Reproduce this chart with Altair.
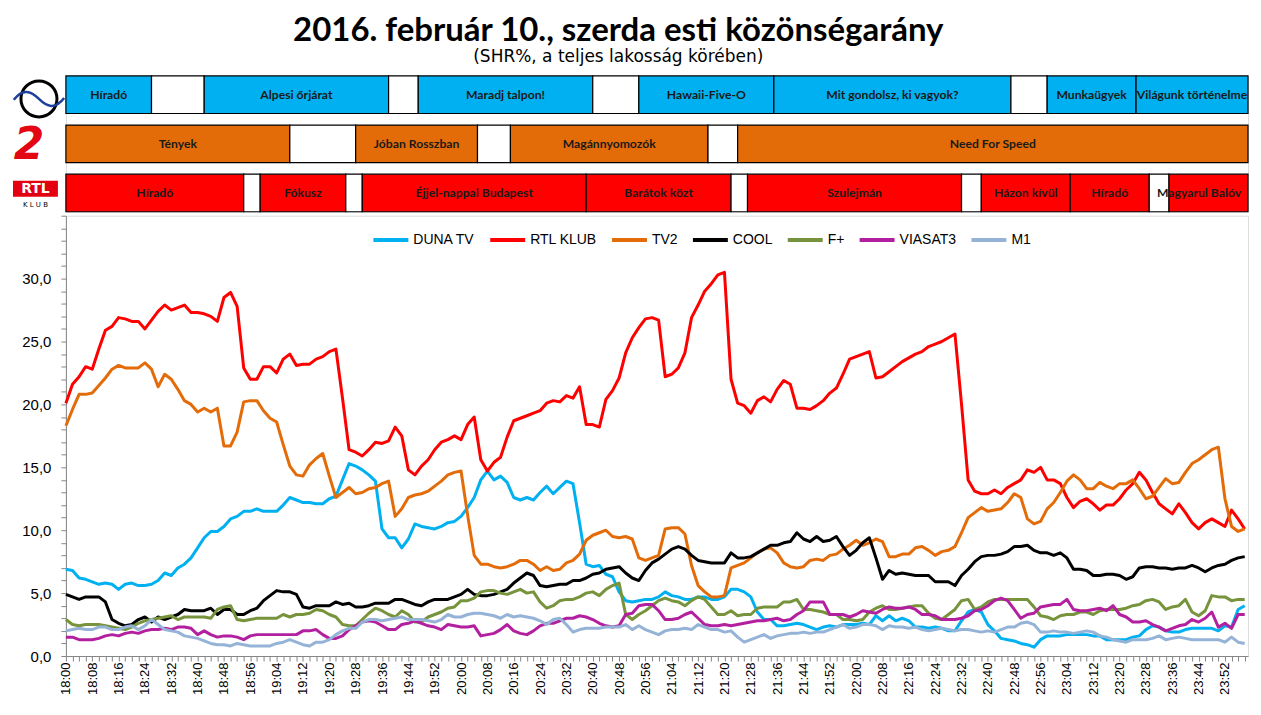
import altair as alt
import pandas as pd

# ---------------- data ----------------
minutes = list(range(0, 360, 2))  # minutes after 18:00

series_names = ["DUNA TV", "RTL KLUB", "TV2", "COOL", "F+", "VIASAT3", "M1"]
series_colors = ["#00B0F0", "#FF0000", "#E36C09", "#000000", "#77933C", "#B3209F", "#95B3D7"]

duna = [6.9, 6.8, 6.2, 6.1, 5.9, 5.7, 5.8, 5.7, 5.3, 5.7,
        5.8, 5.6, 5.6, 5.7, 6.0, 6.6, 6.4, 7.0, 7.3, 7.8,
        8.6, 9.4, 9.9, 9.9, 10.3, 10.9, 11.1, 11.5, 11.5, 11.7,
        11.5, 11.5, 11.5, 12.0, 12.6, 12.4, 12.2, 12.2, 12.1, 12.1,
        12.5, 12.7, 14.0, 15.3, 15.1, 14.8, 14.4, 13.9, 10.1, 9.4,
        9.4, 8.6, 9.3, 10.5, 10.3, 10.2, 10.1, 10.3, 10.6, 10.7,
        11.1, 11.8, 12.6, 14.0, 14.7, 14.0, 14.3, 13.8, 12.6, 12.4,
        12.6, 12.4, 13.0, 13.5, 12.9, 13.4, 13.9, 13.7, 10.6, 7.3,
        7.1, 7.2, 6.5, 6.3, 5.1, 4.4, 4.3, 4.4, 4.5, 4.5,
        4.7, 5.1, 4.8, 4.7, 4.5, 4.5, 4.7, 4.7, 4.5, 4.5,
        4.7, 5.3, 5.3, 5.1, 4.7, 3.5, 2.9, 2.9, 2.4, 2.4,
        2.5, 2.6, 2.5, 2.3, 2.1, 2.3, 2.4, 2.3, 2.5, 2.5,
        2.5, 2.6, 2.5, 3.2, 2.8, 3.2, 2.8, 3.0, 2.8, 2.3,
        2.3, 2.2, 2.3, 2.2, 2.0, 2.0, 2.8, 3.5, 3.7, 3.5,
        2.5, 2.0, 1.4, 1.3, 1.2, 1.0, 0.9, 0.7, 1.3, 1.6,
        1.6, 1.6, 1.7, 1.7, 1.7, 1.7, 1.6, 1.6, 1.3, 1.3,
        1.3, 1.3, 1.5, 1.6, 2.1, 2.4, 2.3, 2.0, 1.9, 1.9,
        2.1, 2.2, 2.2, 2.2, 2.2, 2.0, 2.4, 2.3, 3.7, 4.0]

rtl = [20.1, 21.6, 22.2, 23.0, 22.8, 24.4, 25.9, 26.2, 26.9, 26.8,
       26.6, 26.6, 26.0, 26.7, 27.4, 27.9, 27.5, 27.7, 27.9, 27.3,
       27.3, 27.2, 27.0, 26.6, 28.5, 28.9, 27.8, 22.9, 22.0, 22.0,
       23.0, 23.0, 22.5, 23.6, 24.0, 23.1, 23.2, 23.2, 23.6, 23.8,
       24.2, 24.4, 20.5, 16.4, 16.2, 15.9, 16.4, 17.0, 16.9, 17.1,
       18.2, 17.5, 14.8, 14.4, 15.1, 15.6, 16.4, 17.0, 17.2, 17.5,
       17.2, 18.4, 19.0, 15.6, 14.7, 15.4, 15.8, 17.4, 18.7, 18.9,
       19.1, 19.3, 19.5, 20.1, 20.3, 20.2, 20.7, 20.5, 21.4, 18.4,
       18.4, 18.2, 20.4, 21.1, 22.1, 24.1, 25.3, 26.1, 26.8, 26.9,
       26.7, 22.2, 22.4, 22.9, 24.1, 26.9, 27.9, 29.0, 29.6, 30.3,
       30.5, 22.0, 20.1, 19.9, 19.3, 20.3, 20.6, 20.2, 21.2, 21.9,
       21.6, 19.7, 19.7, 19.6, 19.9, 20.3, 20.9, 21.3, 22.4, 23.6,
       23.8, 24.0, 24.2, 22.1, 22.2, 22.6, 23.0, 23.4, 23.7, 24.0,
       24.2, 24.6, 24.8, 25.0, 25.3, 25.6, 20.0, 14.0, 13.1, 12.9,
       12.9, 13.2, 12.9, 13.4, 13.7, 14.0, 14.8, 14.6, 15.0, 14.0,
       14.0, 13.7, 12.6, 11.8, 12.3, 12.5, 12.1, 11.6, 12.0, 12.0,
       12.5, 13.2, 13.7, 14.6, 14.0, 13.0, 12.1, 11.7, 11.3, 12.1,
       11.4, 10.6, 10.1, 10.6, 10.9, 10.6, 10.3, 11.6, 10.9, 10.1]

tv2 = [18.3, 19.6, 20.8, 20.8, 20.9, 21.5, 22.1, 22.8, 23.1, 22.9,
       22.9, 22.9, 23.3, 22.8, 21.4, 22.4, 22.0, 21.2, 20.3, 20.0,
       19.4, 19.7, 19.4, 19.7, 16.7, 16.7, 17.8, 20.2, 20.3, 20.3,
       19.5, 18.9, 18.6, 16.8, 15.1, 14.4, 14.3, 15.2, 15.7, 16.1,
       14.3, 12.6, 13.0, 13.4, 12.9, 13.0, 13.3, 13.4, 13.7, 13.9,
       11.1, 11.7, 12.6, 12.8, 12.9, 13.1, 13.5, 13.9, 14.4, 14.6,
       14.7, 11.2, 8.0, 7.3, 7.3, 7.1, 7.0, 7.1, 7.3, 7.6,
       7.6, 7.3, 6.8, 7.1, 6.8, 6.9, 7.4, 7.6, 8.1, 9.2,
       9.6, 9.8, 10.0, 9.5, 9.4, 9.5, 9.3, 7.8, 7.6, 7.8,
       8.0, 10.1, 10.2, 10.2, 9.7, 7.2, 5.6, 5.1, 4.7, 4.7,
       4.8, 7.0, 7.2, 7.4, 7.8, 8.2, 8.5, 8.6, 8.2, 7.4,
       7.1, 7.0, 7.1, 7.6, 7.7, 7.6, 8.0, 8.1, 8.5, 8.8,
       9.2, 8.8, 9.0, 9.3, 9.1, 7.9, 7.9, 8.1, 8.1, 8.6,
       8.7, 8.4, 8.0, 8.3, 8.4, 8.7, 9.8, 11.0, 11.4, 11.8,
       11.5, 11.6, 11.7, 12.2, 12.9, 12.6, 10.9, 10.5, 10.7, 11.7,
       12.2, 13.0, 13.9, 14.4, 14.0, 13.3, 13.3, 13.8, 13.5, 13.3,
       13.7, 13.7, 14.0, 13.3, 12.5, 12.7, 13.4, 14.1, 13.7, 13.8,
       14.6, 15.3, 15.6, 16.0, 16.4, 16.6, 12.5, 10.3, 9.9, 10.1]

cool = [4.9, 4.7, 4.5, 4.7, 4.7, 4.7, 4.3, 2.9, 2.6, 2.4,
        2.5, 2.9, 3.1, 2.7, 3.1, 2.9, 3.1, 3.3, 3.7, 3.6,
        3.6, 3.6, 3.8, 3.3, 3.7, 3.7, 3.3, 3.3, 3.6, 3.8,
        4.4, 4.8, 5.2, 5.1, 5.1, 4.9, 3.9, 3.8, 4.0, 4.0,
        4.0, 4.3, 4.1, 4.2, 3.9, 3.9, 4.0, 4.2, 4.2, 4.2,
        4.5, 4.5, 4.3, 4.1, 4.0, 4.3, 4.5, 4.5, 4.5, 4.7,
        4.9, 5.3, 4.9, 4.8, 4.8, 4.9, 5.1, 5.3, 5.8, 6.2,
        6.6, 6.4, 5.6, 5.5, 5.6, 5.7, 5.7, 6.0, 6.0, 6.2,
        6.5, 6.6, 6.9, 7.0, 7.1, 6.6, 6.2, 6.0, 6.8, 7.4,
        7.7, 8.1, 8.5, 8.7, 8.5, 8.0, 7.6, 7.5, 7.4, 7.4,
        7.4, 8.2, 7.8, 7.8, 7.9, 8.2, 8.5, 8.8, 8.8, 9.0,
        9.1, 9.8, 9.3, 9.1, 9.5, 9.1, 9.2, 9.5, 8.7, 8.0,
        8.4, 9.0, 9.4, 7.8, 6.1, 6.8, 6.5, 6.6, 6.5, 6.4,
        6.4, 6.4, 5.9, 5.9, 5.9, 5.6, 6.4, 6.9, 7.5, 7.9,
        8.0, 8.0, 8.1, 8.3, 8.7, 8.7, 8.8, 8.4, 8.2, 8.2,
        8.0, 8.2, 7.8, 6.9, 6.9, 6.8, 6.4, 6.4, 6.5, 6.5,
        6.4, 6.1, 6.3, 7.0, 7.1, 7.1, 7.0, 7.0, 6.9, 7.0,
        7.0, 7.2, 7.0, 6.7, 7.0, 7.2, 7.3, 7.6, 7.8, 7.9]

fplus = [2.9, 2.5, 2.4, 2.5, 2.5, 2.5, 2.4, 2.3, 2.2, 2.1,
         2.3, 2.6, 2.8, 2.9, 3.0, 3.1, 3.2, 2.9, 3.1, 3.1,
         3.1, 3.1, 3.0, 3.7, 3.9, 4.0, 2.9, 2.8, 2.9, 3.0,
         3.0, 3.0, 3.0, 3.3, 3.1, 3.3, 3.3, 3.4, 3.7, 3.6,
         3.3, 3.1, 2.5, 2.4, 2.4, 2.9, 3.4, 3.8, 3.6, 3.3,
         3.1, 3.6, 3.3, 2.7, 2.7, 3.1, 3.3, 3.5, 3.8, 3.9,
         4.4, 4.4, 4.6, 5.1, 5.2, 5.2, 5.0, 4.9, 5.1, 5.3,
         5.0, 5.1, 4.3, 3.8, 4.0, 4.4, 4.5, 4.5, 4.7, 5.0,
         5.1, 4.8, 5.3, 5.6, 5.8, 3.3, 2.9, 3.3, 3.6, 4.0,
         4.4, 4.6, 4.4, 4.3, 4.0, 4.4, 4.7, 4.5, 3.9, 3.3,
         3.3, 3.6, 3.2, 3.3, 3.3, 3.8, 3.9, 3.9, 3.9, 4.3,
         4.3, 4.5, 3.7, 3.7, 3.6, 3.5, 3.3, 3.3, 2.9, 2.9,
         2.8, 2.9, 3.5, 3.8, 4.0, 3.7, 3.7, 3.8, 3.9, 4.0,
         4.0, 3.4, 3.0, 2.9, 3.3, 3.7, 4.4, 4.5, 3.7, 3.9,
         4.3, 4.5, 4.5, 4.5, 4.5, 4.5, 4.5, 3.9, 3.2, 3.1,
         2.9, 3.2, 3.3, 3.3, 3.5, 3.5, 3.3, 3.6, 3.7, 3.7,
         3.7, 3.8, 4.0, 4.1, 4.4, 4.5, 4.3, 3.7, 3.9, 4.0,
         4.5, 3.5, 3.2, 3.6, 4.8, 4.7, 4.7, 4.4, 4.5, 4.5]

viasat3 = [1.5, 1.5, 1.3, 1.3, 1.3, 1.4, 1.6, 1.7, 1.6, 1.8,
           1.9, 1.8, 2.0, 2.1, 2.1, 2.2, 2.1, 2.3, 2.3, 2.2,
           1.7, 2.0, 1.7, 1.5, 1.6, 1.6, 1.5, 1.3, 1.6, 1.7,
           1.7, 1.7, 1.7, 1.7, 1.7, 1.7, 2.0, 2.0, 2.1, 1.7,
           1.4, 1.4, 1.6, 2.1, 2.4, 2.7, 2.8, 2.7, 2.4, 2.1,
           2.1, 2.5, 2.6, 2.8, 2.6, 2.4, 2.3, 2.1, 2.5, 2.4,
           2.3, 2.3, 2.4, 1.6, 1.7, 1.8, 2.1, 2.5, 2.0, 1.8,
           1.7, 2.0, 2.4, 2.6, 2.6, 2.8, 3.0, 3.0, 3.2, 3.1,
           2.9, 2.6, 2.4, 2.3, 2.4, 3.3, 3.4, 4.0, 4.1, 4.1,
           3.6, 2.9, 2.9, 3.0, 3.3, 3.5, 3.0, 2.5, 2.4, 2.4,
           2.5, 2.4, 2.5, 2.6, 2.7, 2.8, 2.8, 2.9, 3.0, 2.8,
           2.9, 3.3, 3.6, 4.3, 4.3, 4.3, 3.3, 3.3, 3.3, 3.1,
           3.3, 3.6, 3.5, 3.4, 3.7, 3.9, 3.8, 3.8, 3.9, 3.7,
           3.3, 3.3, 3.2, 2.9, 2.9, 2.9, 3.0, 3.2, 3.6, 3.7,
           4.0, 4.4, 4.6, 4.4, 3.7, 3.0, 3.3, 3.4, 3.9, 4.0,
           4.1, 4.1, 4.5, 3.7, 3.6, 3.6, 3.7, 3.8, 3.6, 4.0,
           3.3, 3.1, 2.7, 2.7, 2.8, 2.5, 2.3, 2.0, 2.2, 2.4,
           2.5, 2.9, 2.7, 3.0, 3.5, 2.3, 2.6, 2.2, 3.3, 3.3]

m1 = [2.0, 2.1, 2.2, 2.1, 2.1, 2.3, 2.3, 2.1, 2.1, 2.3,
      2.4, 2.1, 2.4, 2.9, 2.5, 2.1, 2.0, 1.9, 1.6, 1.5,
      1.4, 1.2, 1.0, 0.9, 0.9, 0.8, 1.0, 0.9, 0.8, 0.8,
      0.8, 0.8, 1.0, 1.1, 1.3, 1.1, 0.9, 0.8, 1.1, 1.1,
      1.3, 1.7, 2.0, 2.2, 2.2, 2.7, 2.9, 2.9, 2.8, 2.9,
      3.0, 3.1, 2.9, 2.9, 2.9, 2.8, 2.7, 2.9, 3.3, 3.1,
      3.1, 3.3, 3.4, 3.4, 3.3, 3.2, 3.0, 3.3, 3.1, 3.2,
      3.1, 3.0, 2.8, 2.5, 2.9, 3.0, 2.5, 1.9, 2.1, 2.2,
      2.2, 2.2, 2.3, 2.3, 2.3, 2.5, 2.1, 2.4, 2.1, 1.9,
      1.7, 2.0, 2.1, 2.1, 2.2, 2.1, 2.5, 2.3, 2.1, 2.1,
      1.9, 2.0, 1.5, 1.1, 1.3, 1.5, 1.7, 1.4, 1.6, 1.7,
      1.8, 1.8, 1.9, 1.8, 1.9, 1.9, 2.1, 2.3, 2.5, 2.2,
      2.3, 2.5, 2.5, 2.4, 2.1, 2.4, 2.3, 2.3, 2.2, 2.3,
      2.1, 2.0, 2.1, 2.2, 2.1, 2.0, 2.1, 2.1, 2.0, 1.9,
      2.0, 1.9, 2.1, 2.3, 2.3, 2.6, 2.7, 2.5, 1.9, 1.9,
      2.0, 1.9, 1.9, 1.8, 1.9, 2.0, 1.9, 1.6, 1.5, 1.3,
      1.2, 1.1, 1.3, 1.3, 1.3, 1.4, 1.6, 1.3, 1.4, 1.5,
      1.4, 1.3, 1.3, 1.3, 1.3, 1.3, 1.1, 1.5, 1.1, 1.0]

# program schedule (minutes after 18:00); empty title = break
prog_channel = (["DUNA"] * 11) + (["TV2"] * 7) + (["RTL"] * 13)
prog_title = ["Híradó", "", "Alpesi őrjárat", "", "Maradj talpon!", "", "Hawaii-Five-O",
              "Mit gondolsz, ki vagyok?", "", "Munkaügyek", "Világunk történelme",
              "Tények", "", "Jóban Rosszban", "", "Magánnyomozók", "", "Need For Speed",
              "Híradó", "", "Fókusz", "", "Éjjel-nappal Budapest", "Barátok közt", "",
              "Szulejmán", "", "Házon kívül", "Híradó", "", "Magyarul Balóval"]
prog_start = [0, 26, 42, 98, 107, 160, 174, 215, 287, 298, 325,
              0, 68, 88, 125, 135, 195, 204,
              0, 54, 59, 85, 90, 158, 202, 207, 272, 278, 305, 329, 335]
prog_end = [26, 42, 98, 107, 160, 174, 215, 287, 298, 325, 359,
            68, 88, 125, 135, 195, 204, 359,
            54, 59, 85, 90, 158, 202, 207, 272, 278, 305, 329, 335, 359]

row_order = ["DUNA", "TV2", "RTL"]
fill_domain = ["DUNA", "TV2", "RTL", "szünet"]
fill_range = ["#00B0F0", "#E36C09", "#FF0000", "#FFFFFF"]

# ---------------- tables ----------------
rows = []
for name, vals in zip(series_names, [duna, rtl, tv2, cool, fplus, viasat3, m1]):
    assert len(vals) == len(minutes), name
    for m, v in zip(minutes, vals):
        rows.append({"perc": m, "csatorna": name, "shr": v})
df = pd.DataFrame(rows)

sched = pd.DataFrame({"csatorna": prog_channel, "musor": prog_title,
                      "kezdet": prog_start, "veg": prog_end})
sched["szin"] = [c if t else "szünet" for c, t in zip(prog_channel, prog_title)]

W = 1184
BAR_H = 136
LINE_H = 441
x_scale = alt.Scale(domain=[0, 359], nice=False, zero=False)
row_scale = alt.Scale(domain=row_order, paddingInner=0.235, paddingOuter=0)

# ---------------- schedule panel ----------------
bars = alt.Chart(sched).mark_rect(stroke="#000000", strokeWidth=1.2).encode(
    x=alt.X("kezdet:Q", scale=x_scale, axis=None),
    x2="veg:Q",
    y=alt.Y("csatorna:N", scale=row_scale, axis=None),
    fill=alt.Fill("szin:N", scale=alt.Scale(domain=fill_domain, range=fill_range), legend=None),
)

label_font = dict(font="Lato", fontWeight="bold", fontSize=12.2, color="#1a1a1a")

# labels centred in their program box
bar_labels = alt.Chart(sched).transform_filter(
    "datum.musor != '' && datum.kezdet < 330"
).transform_calculate(
    kozep="(datum.kezdet + datum.veg) / 2"
).mark_text(**label_font).encode(
    x=alt.X("kozep:Q", scale=x_scale, axis=None),
    y=alt.Y("csatorna:N", scale=row_scale, axis=None),
    text="musor:N",
)

# the last short program: its title runs off the right edge, as in the original
edge_labels = alt.Chart(sched).transform_filter(
    "datum.musor != '' && datum.kezdet >= 330"
).mark_text(align="left", dx=-12, limit=88, ellipsis="\u200b", **label_font).encode(
    x=alt.X("kezdet:Q", scale=x_scale, axis=None),
    y=alt.Y("csatorna:N", scale=row_scale, axis=None),
    text="musor:N",
)

one = alt.Data(values=[{"a": 1}])
duna_circle = alt.Chart(one).mark_point(shape="circle", size=1300, filled=False,
                                         stroke="#000000", strokeWidth=3, opacity=1).encode(
    x=alt.value(-27), y=alt.value(23))
duna_wave = alt.Chart(one).mark_point(
    shape="M -1.4 0.05 C -0.9 -0.6 -0.45 -0.45 0 0 C 0.45 0.45 0.9 0.6 1.4 -0.05",
    size=1300, filled=False, stroke="#1F3F9F", strokeWidth=2.5, opacity=1).encode(
    x=alt.value(-27), y=alt.value(23))
tv2_logo = alt.Chart(one).mark_text(text="2", font="DejaVu Sans", fontWeight="bold",
                                    fontStyle="italic", fontSize=44, color="#E30613").encode(
    x=alt.value(-37), y=alt.value(70))
rtl_box = alt.Chart(one).mark_rect(color="#E3000F").encode(
    x=alt.value(-53), x2=alt.value(-8), y=alt.value(105), y2=alt.value(121))
rtl_text = alt.Chart(one).mark_text(text="RTL", font="DejaVu Sans", fontWeight="bold",
                                    fontSize=14, color="#FFFFFF").encode(
    x=alt.value(-30.5), y=alt.value(113.5))
klub_text = alt.Chart(one).mark_text(text="K  L  U  B", font="DejaVu Sans", fontSize=7,
                                     color="#000000").encode(
    x=alt.value(-30.5), y=alt.value(129))

schedule = alt.layer(bars, bar_labels, edge_labels, duna_circle, duna_wave, tv2_logo,
                     rtl_box, rtl_text, klub_text).properties(width=W, height=BAR_H)

# ---------------- line panel ----------------
time_expr = ("datum.value % 8 === 0 && datum.value < 359 ? "
             "(18 + floor(datum.value / 60)) + ':' + "
             "((datum.value % 60) < 10 ? '0' : '') + (datum.value % 60) : ''")
y_expr = ("datum.value % 5 === 0 && datum.value < 35 ? "
          "replace(format(datum.value, '.1f'), '.', ',') : ''")

lines = alt.Chart(df).mark_line(strokeWidth=3, strokeJoin="round").encode(
    x=alt.X("perc:Q", scale=x_scale,
            axis=alt.Axis(values=list(range(0, 359, 2)), labelExpr=time_expr, title=None,
                          labelAngle=270, labelAlign="right", labelBaseline="middle",
                          labelFontSize=13, labelFont="Liberation Sans", labelColor="#000000",
                          labelPadding=1, tickSize=5, tickColor="#868686", domainColor="#868686",
                          labelOverlap=False, labelFlush=False, labelBound=False, grid=False)),
    y=alt.Y("shr:Q", scale=alt.Scale(domain=[0, 35], nice=False, zero=True),
            axis=alt.Axis(values=list(range(0, 36)), labelExpr=y_expr, title=None,
                          labelFontSize=15, labelFont="Liberation Sans", labelColor="#000000",
                          labelPadding=10, tickSize=5, tickColor="#868686", domainColor="#868686",
                          labelOverlap=False, labelFlush=False, grid=False)),
    color=alt.Color("csatorna:N", scale=alt.Scale(domain=series_names, range=series_colors),
                    sort=series_names,
                    legend=alt.Legend(orient="none", legendX=306, legendY=144.5, direction="horizontal",
                                      columns=7, title=None, symbolType="stroke",
                                      symbolStrokeWidth=4, symbolSize=1225, columnPadding=7,
                                      labelOffset=3, labelFontSize=14, labelFont="Liberation Sans",
                                      labelColor="#000000", padding=0)),
).properties(width=W, height=LINE_H)

chart = alt.vconcat(schedule, lines, spacing=4, bounds="flush").properties(
    title=alt.TitleParams(
        text="2016. február 10., szerda esti közönségarány",
        subtitle="(SHR%, a teljes lakosság körében)",
        font="Lato", fontSize=33, fontWeight="bold", color="#000000",
        subtitleFont="DejaVu Sans", subtitleFontSize=17, subtitleColor="#000000",
        subtitlePadding=1, anchor="middle", offset=9, dx=-12),
    padding={"left": 0, "top": 6.5, "right": 0, "bottom": 0},
).configure_view(stroke=None).configure(background="#FFFFFF")

chart.save("out.html", embed_options={"renderer": "svg", "actions": False})
